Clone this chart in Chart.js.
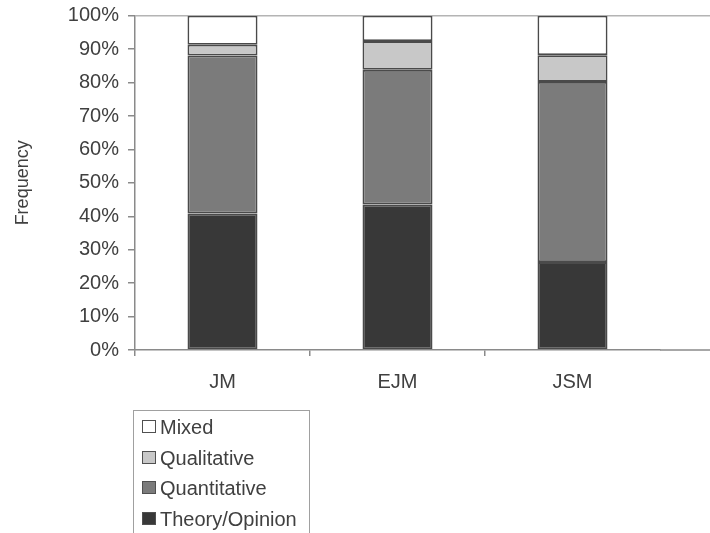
<!DOCTYPE html>
<html>
<head>
<meta charset="utf-8">
<script src="https://cdn.jsdelivr.net/npm/chart.js@4"></script>
<style>
  html, body { margin: 0; padding: 0; background: #fff; }
  #wrap { position: relative; width: 710px; height: 533px; overflow: hidden; }
  #legend {
    position: absolute; left: 133px; top: 410px; width: 177px; height: 140px;
    border: 1.5px solid #a0a0a0; box-sizing: border-box;
    font: 20px "Liberation Sans", Arial, sans-serif; color: #404040;
  }
  .item { position: absolute; left: 8px; height: 24px; line-height: 24px; white-space: nowrap; }
  .sw { display: inline-block; width: 12px; height: 11px; border: 1.5px solid #505050;
        vertical-align: middle; margin-right: 4px; position: relative; top: -2px; }
</style>
</head>
<body>
<div id="wrap">
  <canvas id="chart" width="710" height="533"></canvas>
  <div id="legend"></div>
</div>
<script>
const categories = ['JM', 'EJM', 'JSM'];
const seriesNames = ['Theory/Opinion', 'Quantitative', 'Qualitative', 'Mixed'];
const theoryOpinion = [40.8, 43.5, 26.3];
const quantitative = [47.3, 40.3, 53.9];
const qualitative = [3.2, 8.6, 8.0];
const mixed = [8.7, 7.6, 11.8];
const yTicks = [0, 10, 20, 30, 40, 50, 60, 70, 80, 90, 100];
const fills = ['#383838', '#7b7b7b', '#c8c8c8', '#ffffff'];

const values = [theoryOpinion, quantitative, qualitative, mixed];

// axis line and top border carry on to the right edge, as in the original figure
const frameLines = {
  id: 'frameLines',
  beforeDatasetsDraw(chart) {
    const { ctx, chartArea: a, width } = chart;
    ctx.save();
    ctx.lineWidth = 1.5;
    ctx.strokeStyle = '#b4b4b4';
    ctx.beginPath();
    ctx.moveTo(a.left, a.top);
    ctx.lineTo(width, a.top);
    ctx.stroke();
    ctx.strokeStyle = '#8a8a8a';
    ctx.beginPath();
    ctx.moveTo(a.right, a.bottom);
    ctx.lineTo(width, a.bottom);
    ctx.stroke();
    ctx.restore();
  }
};

const font = { family: '"Liberation Sans", Arial, sans-serif', size: 20 };

new Chart(document.getElementById('chart'), {
  type: 'bar',
  data: {
    labels: categories,
    datasets: seriesNames.map((name, i) => ({
      label: name,
      data: values[i],
      backgroundColor: fills[i],
      borderColor: '#4a4a4a',
      borderWidth: 1.8,
      borderSkipped: false,
      barPercentage: 1,
      categoryPercentage: 0.4
    }))
  },
  options: {
    responsive: false,
    animation: false,
    layout: { padding: { left: 0, right: 50, top: 15.7, bottom: 125 } },
    plugins: { legend: { display: false }, tooltip: { enabled: false } },
    scales: {
      x: {
        stacked: true,
        border: { color: '#8a8a8a', width: 1.5 },
        grid: {
          drawOnChartArea: false, tickLength: 6, lineWidth: 1.5,
          color: c => c.type === 'tick' ? '#8a8a8a' : 'rgba(0,0,0,0)'
        },
        ticks: { color: '#404040', font, padding: 14 }
      },
      y: {
        stacked: true,
        min: 0, max: 100,
        afterFit: s => { s.width = 135; s.paddingTop = 0; s.paddingBottom = 0; },
        afterBuildTicks: s => { s.ticks = yTicks.map(v => ({ value: v })); },
        border: { color: '#8a8a8a', width: 1.5 },
        grid: { drawOnChartArea: false, tickLength: 7, lineWidth: 1.5, color: '#8a8a8a' },
        ticks: { color: '#404040', font, padding: 9, callback: v => v + '%' },
        title: {
          display: true, text: 'Frequency', color: '#404040',
          font: { family: font.family, size: 18 }, padding: { top: 12, bottom: 0 }
        }
      }
    }
  },
  plugins: [frameLines]
});

// legend, top item is the top segment
const legend = document.getElementById('legend');
seriesNames.slice().reverse().forEach((name, k) => {
  const i = seriesNames.length - 1 - k;
  const row = document.createElement('div');
  row.className = 'item';
  row.style.top = (4 + k * 30.5) + 'px';
  const sw = document.createElement('span');
  sw.className = 'sw';
  sw.style.background = fills[i];
  row.appendChild(sw);
  row.appendChild(document.createTextNode(name));
  legend.appendChild(row);
});
</script>
</body>
</html>
